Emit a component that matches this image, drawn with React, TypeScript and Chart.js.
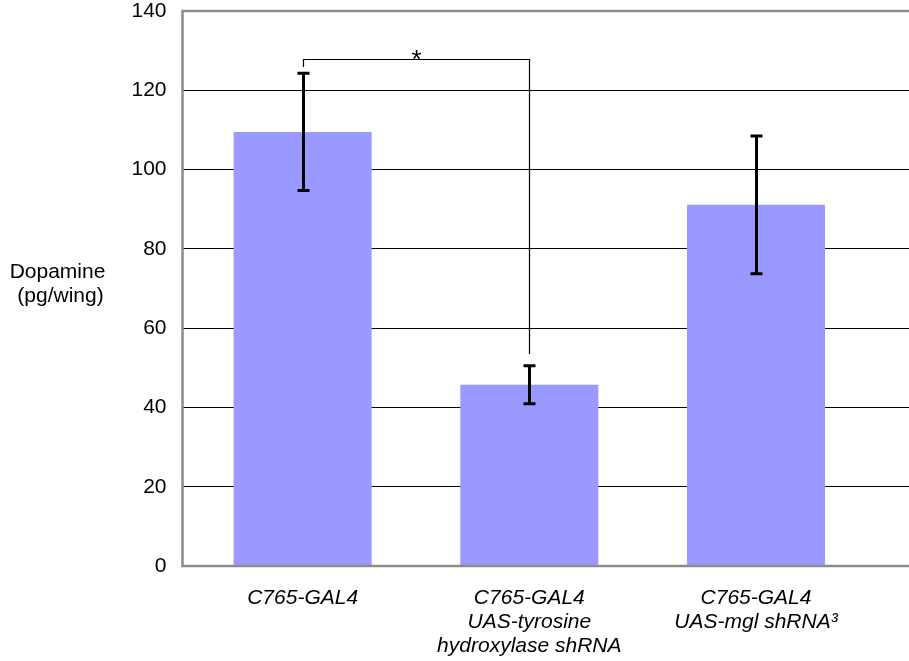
import React, { useEffect, useRef } from "react";
import { Chart, registerables } from "chart.js";

Chart.register(...registerables);

const categories: string[][] = [
  ["C765-GAL4"],
  ["C765-GAL4", "UAS-tyrosine", "hydroxylase shRNA"],
  ["C765-GAL4", "UAS-mgl shRNA³"],
];
const values: number[] = [109.5, 45.7, 91.1];
const errors: number[] = [14.8, 4.8, 17.4];
const yTicks: number[] = [0, 20, 40, 60, 80, 100, 120, 140];
const yTitle: string[] = ["Dopamine", "(pg/wing)"];
// significance bracket: between bar 0 and bar 1, top at 127.8, legs end at 125.9 and 53.5
const sigPair: number[] = [0, 1];
const sigLevels: number[] = [127.8, 125.9, 53.5];
const sigLabel = "*";

const FONT = '"Liberation Sans", Arial, Helvetica, sans-serif';
const BAR = "#9999FF";
const FRAME = "#8c8c8c";

const overlay = {
  id: "overlay",
  afterDatasetsDraw(chart: any) {
    const { ctx, chartArea, scales } = chart;
    const x = scales.x;
    const y = scales.y;
    ctx.save();
    // error bars
    ctx.strokeStyle = "#000";
    ctx.lineWidth = 3;
    ctx.lineCap = "butt";
    values.forEach((v, i) => {
      const px = Math.round(x.getPixelForValue(i + 1)) + 0.5;
      const top = y.getPixelForValue(v + errors[i]);
      const bot = y.getPixelForValue(v - errors[i]);
      ctx.beginPath();
      ctx.moveTo(px, top);
      ctx.lineTo(px, bot);
      ctx.moveTo(px - 6, top);
      ctx.lineTo(px + 6, top);
      ctx.moveTo(px - 6, bot);
      ctx.lineTo(px + 6, bot);
      ctx.stroke();
    });
    // bracket
    const xa = Math.round(x.getPixelForValue(sigPair[0] + 1)) + 0.5;
    const xb = Math.round(x.getPixelForValue(sigPair[1] + 1)) + 0.5;
    const yt = Math.round(y.getPixelForValue(sigLevels[0])) + 0.5;
    ctx.lineWidth = 1.2;
    ctx.beginPath();
    ctx.moveTo(xa, y.getPixelForValue(sigLevels[1]));
    ctx.lineTo(xa, yt);
    ctx.lineTo(xb, yt);
    ctx.lineTo(xb, y.getPixelForValue(sigLevels[2]));
    ctx.stroke();
    ctx.fillStyle = "#000";
    ctx.font = `26px ${FONT}`;
    ctx.textAlign = "center";
    ctx.textBaseline = "alphabetic";
    ctx.fillText(sigLabel, (xa + xb) / 2, yt + 8);
    // frame
    ctx.strokeStyle = FRAME;
    ctx.lineWidth = 2.5;
    ctx.beginPath();
    ctx.moveTo(chartArea.right + 2, chartArea.top);
    ctx.lineTo(chartArea.left, chartArea.top);
    ctx.lineTo(chartArea.left, chartArea.bottom);
    ctx.lineTo(chartArea.right + 2, chartArea.bottom);
    ctx.stroke();
    // y title
    ctx.fillStyle = "#000";
    ctx.font = `21px ${FONT}`;
    ctx.textAlign = "center";
    ctx.fillText(yTitle[0], 57.5, 277.5);
    ctx.fillText(yTitle[1], 60.5, 301.5);
    ctx.restore();
  },
};

export default function App() {
  const ref = useRef<HTMLCanvasElement | null>(null);
  useEffect(() => {
    if (!ref.current) return;
    const chart = new Chart(ref.current, {
      type: "bar",
      data: {
        datasets: [
          {
            data: values.map((v, i) => ({ x: i + 1, y: v })),
            backgroundColor: BAR,
            borderWidth: 0,
            barPercentage: 0.609,
            categoryPercentage: 1,
          },
        ],
      },
      options: {
        responsive: false,
        animation: false,
        devicePixelRatio: 1,
        layout: { padding: { top: 11, left: 0, right: 0, bottom: 0 } },
        plugins: { legend: { display: false }, tooltip: { enabled: false } },
        scales: {
          x: {
            type: "linear",
            offset: false,
            min: 0.47,
            max: 3.675,
            grid: { display: false, drawTicks: false, offset: false },
            border: { display: false },
            afterBuildTicks: (axis: any) => {
              axis.ticks = categories.map((_, i) => ({ value: i + 1 }));
            },
            afterFit: (axis: any) => {
              axis.height = 95;
              axis.paddingLeft = 0;
              axis.paddingRight = 0;
              axis.paddingTop = 0;
              axis.paddingBottom = 0;
            },
            ticks: {
              autoSkip: false,
              maxRotation: 0,
              padding: 20,
              color: "#000",
              font: { family: FONT, size: 21, style: "italic", lineHeight: "24px" },
              callback: (v: any) => categories[Math.round(Number(v)) - 1] ?? "",
            },
          },
          y: {
            min: 0,
            max: 140,
            afterBuildTicks: (axis: any) => {
              axis.ticks = yTicks.map((v) => ({ value: v }));
            },
            afterFit: (axis: any) => {
              axis.width = 182.5;
              axis.paddingLeft = 0;
              axis.paddingRight = 0;
              axis.paddingTop = 0;
              axis.paddingBottom = 0;
            },
            grid: {
              drawTicks: false,
              color: (c: any) =>
                c.tick && (c.tick.value === 0 || c.tick.value === 140) ? "rgba(0,0,0,0)" : "#000",
              lineWidth: 1,
            },
            border: { display: false },
            ticks: {
              padding: 16,
              color: "#000",
              font: { family: FONT, size: 21, lineHeight: 1 },
            },
          },
        },
      },
      plugins: [overlay],
    });
    return () => chart.destroy();
  }, []);
  return (
    <div style={{ position: "absolute", left: 0, top: 0, width: 909, height: 661, background: "#fff" }}>
      <canvas ref={ref} width={909} height={661} />
    </div>
  );
}
